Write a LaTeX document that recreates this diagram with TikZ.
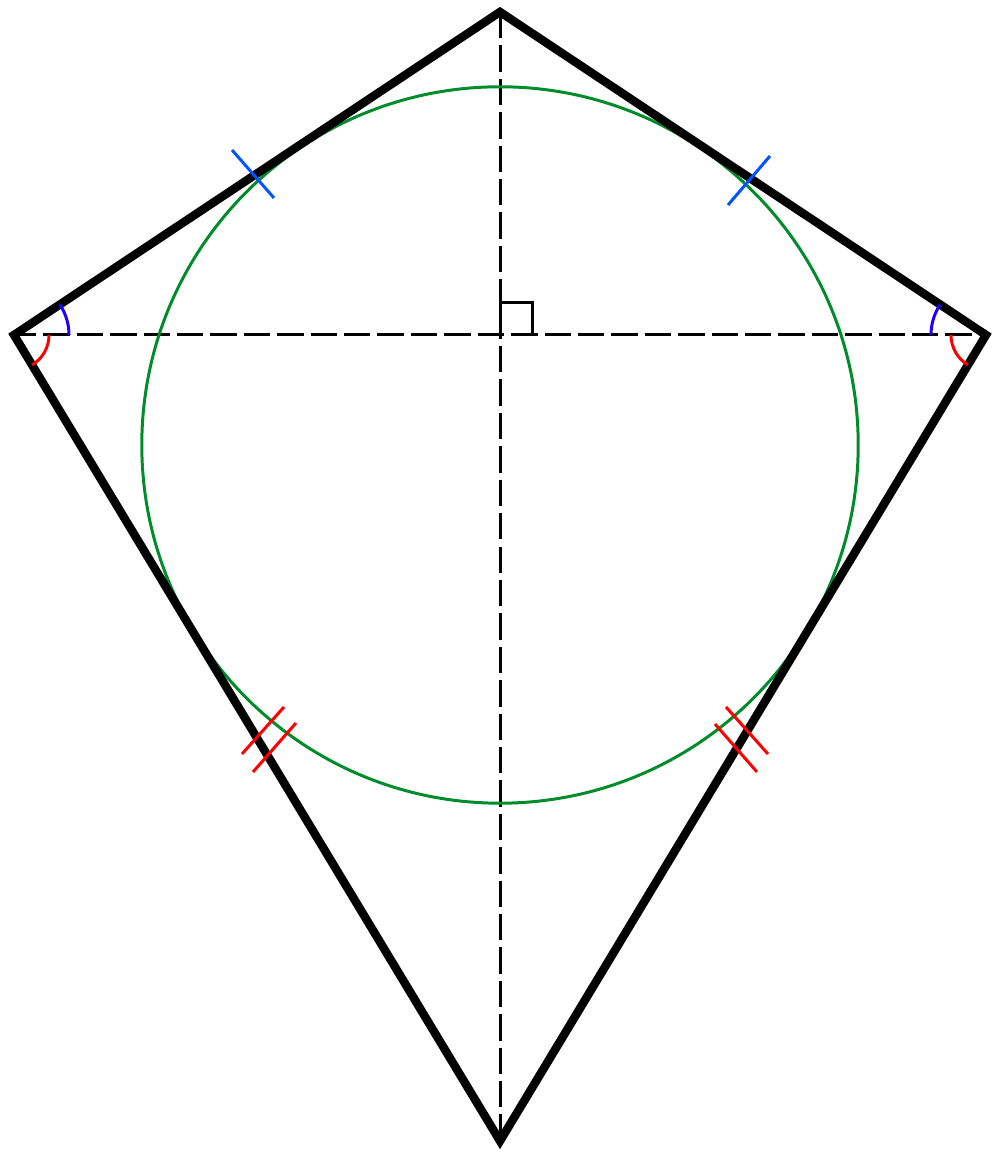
\documentclass[tikz,border=0pt]{standalone}
\usepackage{tikz}
\usetikzlibrary{calc}

\definecolor{circgreen}{HTML}{008C2A}
\definecolor{tickblue}{HTML}{0055FF}
\definecolor{arcblue}{HTML}{2200FF}

\begin{document}
\begin{tikzpicture} [x = 0.01cm, y = 0.01cm,
    kite/.style = {line width = 2.4pt, line join = miter},
    diag/.style = {line width = 0.85pt, dash pattern = on 7.5pt off 2pt},
    tick/.style = {line width = 0.85pt}]
    \useasboundingbox (0,0) rectangle (1000,1161);

    \coordinate (T) at (500,1149);
    \coordinate (L) at (14,826);
    \coordinate (R) at (986,826);
    \coordinate (B) at (500,20);
    \coordinate (O) at (500,716);

    % diagonals
    \draw [diag] (10,826) -- (990,826);
    \draw [diag] (T) -- (B);
    \draw [line width = 0.85pt] (500,826) -- (500,858) -- (532,858) -- (532,826);

    % incircle
    \draw [circgreen, line width = 0.85pt] (O) circle [radius = 3.58cm];

    % kite
    \draw [kite] (T) -- (R) -- (B) -- (L) -- cycle;

    % angles
    \draw [arcblue, tick] ([shift = {(0:0.55cm)}] L) arc [start angle = 0, end angle = 33.6, radius = 0.55cm];
    \draw [red, tick] ([shift = {(0:0.35cm)}] L) arc [start angle = 0, end angle = -58.9, radius = 0.35cm];
    \draw [arcblue, tick] ([shift = {(180:0.55cm)}] R) arc [start angle = 180, end angle = 146.4, radius = 0.55cm];
    \draw [red, tick] ([shift = {(180:0.35cm)}] R) arc [start angle = 180, end angle = 238.9, radius = 0.35cm];

    % equal sides
    \draw [tickblue, tick] (232,1011) -- (274,963);
    \draw [tickblue, tick] (728,956) -- (770,1005);
    \draw [red, tick] (242,407) -- (284,454);
    \draw [red, tick] (253,389) -- (296,438);
    \draw [red, tick] (715,437) -- (757,389);
    \draw [red, tick] (726,454) -- (768,407);
\end{tikzpicture}
\end{document}
